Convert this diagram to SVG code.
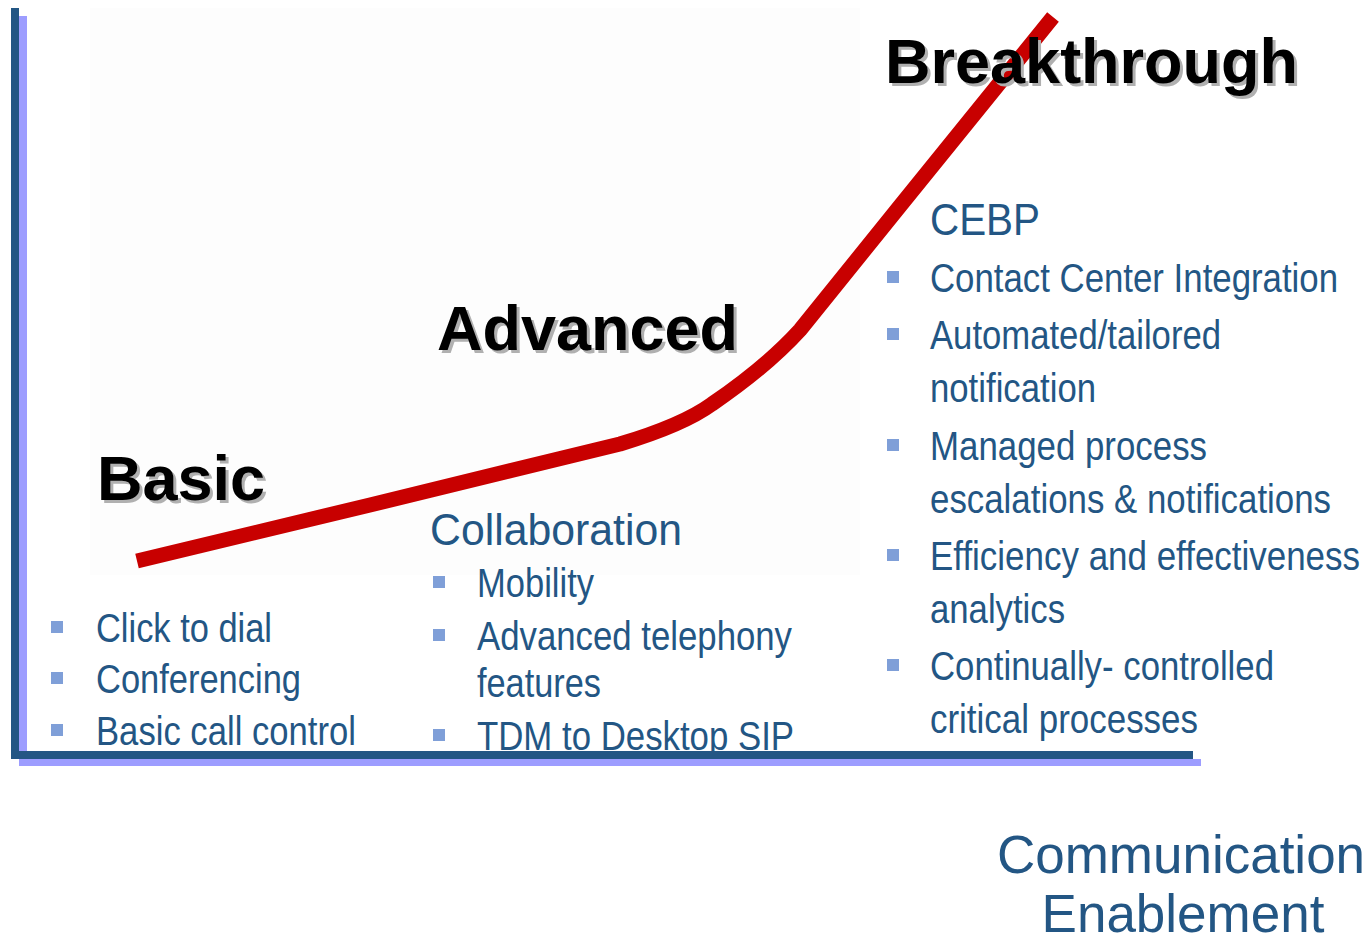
<svg xmlns="http://www.w3.org/2000/svg" width="1372" height="934" viewBox="0 0 1372 934">
<style>
.h{font-family:"Liberation Sans",Arial,sans-serif;font-weight:bold;font-size:63px;fill:#000}
.hs{font-family:"Liberation Sans",Arial,sans-serif;font-weight:bold;font-size:63px;fill:#b0b0b0}
.t{font-family:"Liberation Sans Narrow","Arial Narrow","Liberation Sans",sans-serif;font-size:41px;fill:#235684}
.st{font-family:"Liberation Sans Narrow","Arial Narrow","Liberation Sans",sans-serif;font-size:45px;fill:#235684}
.ce{font-family:"Liberation Sans",Arial,sans-serif;font-size:53px;fill:#235684}
.b{fill:#7f9fd8}
</style>
<rect width="1372" height="934" fill="#fff"/>
<rect x="90" y="8" width="770" height="567" fill="#fdfdfd"/>
<g id="axes">
<rect x="19" y="16" width="8" height="750" fill="#9d9dff"/>
<rect x="20" y="759" width="1181" height="7" fill="#9d9dff"/>
<rect x="11" y="8" width="8" height="751" fill="#235684"/>
<rect x="11" y="751" width="1182" height="8" fill="#235684"/>
</g>
<g id="connectors">
<path d="M137,561 L370,505 L620,444 C660,432 690,420 712,404 C750,378 780,352 800,330 L900,206 L1053,17" fill="none" stroke="#c80000" stroke-width="15" stroke-linejoin="round"/>
</g>
<g id="basic">
<text class="hs" x="100" y="503">Basic</text>
<text class="h" x="97" y="500">Basic</text>
</g>
<g id="advanced">
<text class="hs" x="440" y="353">Advanced</text>
<text class="h" x="437" y="350">Advanced</text>
</g>
<g id="breakthrough">
<text class="hs" x="888" y="86">Breakthrough</text>
<text class="h" x="885" y="83">Breakthrough</text>
</g>
<g id="basic-list">
<rect class="b" x="51" y="621" width="12" height="12"/>
<text class="t" x="96" y="642" textLength="176" lengthAdjust="spacingAndGlyphs">Click to dial</text>
<rect class="b" x="51" y="672" width="12" height="12"/>
<text class="t" x="96" y="693" textLength="205" lengthAdjust="spacingAndGlyphs">Conferencing</text>
<rect class="b" x="51" y="724" width="12" height="12"/>
<text class="t" x="96" y="745" textLength="260" lengthAdjust="spacingAndGlyphs">Basic call control</text>
</g>
<g id="collaboration">
<text class="st" x="430" y="545" textLength="252" lengthAdjust="spacingAndGlyphs">Collaboration</text>
<rect class="b" x="433" y="576" width="12" height="12"/>
<text class="t" x="477" y="597" textLength="117" lengthAdjust="spacingAndGlyphs">Mobility</text>
<rect class="b" x="433" y="629" width="12" height="12"/>
<text class="t" x="477" y="650" textLength="315" lengthAdjust="spacingAndGlyphs">Advanced telephony</text>
<text class="t" x="477" y="697" textLength="124" lengthAdjust="spacingAndGlyphs">features</text>
<rect class="b" x="433" y="729" width="12" height="12"/>
<text class="t" x="477" y="750" textLength="317" lengthAdjust="spacingAndGlyphs">TDM to Desktop SIP</text>
</g>
<g id="cebp">
<text class="st" x="930" y="235" textLength="110" lengthAdjust="spacingAndGlyphs">CEBP</text>
<rect class="b" x="887" y="271" width="12" height="12"/>
<text class="t" x="930" y="292" textLength="408" lengthAdjust="spacingAndGlyphs">Contact Center Integration</text>
<rect class="b" x="887" y="328" width="12" height="12"/>
<text class="t" x="930" y="349" textLength="291" lengthAdjust="spacingAndGlyphs">Automated/tailored</text>
<text class="t" x="930" y="402" textLength="166" lengthAdjust="spacingAndGlyphs">notification</text>
<rect class="b" x="887" y="439" width="12" height="12"/>
<text class="t" x="930" y="460" textLength="277" lengthAdjust="spacingAndGlyphs">Managed process</text>
<text class="t" x="930" y="513" textLength="401" lengthAdjust="spacingAndGlyphs">escalations &amp; notifications</text>
<rect class="b" x="887" y="549" width="12" height="12"/>
<text class="t" x="930" y="570" textLength="430" lengthAdjust="spacingAndGlyphs">Efficiency and effectiveness</text>
<text class="t" x="930" y="623" textLength="135" lengthAdjust="spacingAndGlyphs">analytics</text>
<rect class="b" x="887" y="659" width="12" height="12"/>
<text class="t" x="930" y="680" textLength="344" lengthAdjust="spacingAndGlyphs">Continually- controlled</text>
<text class="t" x="930" y="733" textLength="268" lengthAdjust="spacingAndGlyphs">critical processes</text>
</g>
<g id="axis-label">
<text class="ce" x="1181" y="873" text-anchor="middle">Communication</text>
<text class="ce" x="1183" y="932" text-anchor="middle">Enablement</text>
</g>
</svg>
